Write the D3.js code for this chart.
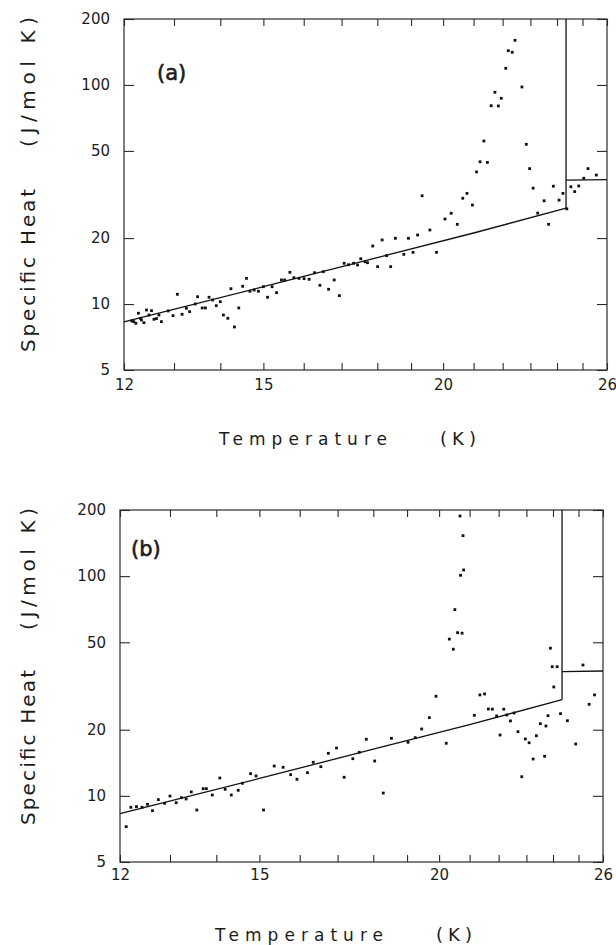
<!DOCTYPE html>
<html>
<head>
<meta charset="utf-8">
<script src="https://cdn.jsdelivr.net/npm/d3@7"></script>
<style>
  body { margin: 0; background: #fff; }
  svg { display: block; }
  text { font-family: "DejaVu Sans", sans-serif; fill: #1c1c1c; }
</style>
</head>
<body>
<div id="chart"></div>
<script>
// panel (a) measured points: temperature (K) and specific heat (J/mol K)
const tempA = [12.15, 12.19, 12.23, 12.28, 12.32, 12.34, 12.39, 12.44, 12.49, 12.54,
  12.59, 12.64, 12.69, 12.74, 12.88, 12.98, 13.07, 13.17, 13.26, 13.33,
  13.45, 13.50, 13.60, 13.67, 13.75, 13.83, 13.91, 14.00, 14.07, 14.17,
  14.24, 14.32, 14.42, 14.51, 14.60, 14.68, 14.78, 14.88, 15.00, 15.10,
  15.21, 15.32, 15.44, 15.52, 15.65, 15.75, 15.88, 16.01, 16.14, 16.28,
  16.42, 16.51, 16.65, 16.80, 16.94, 17.07, 17.19, 17.33, 17.44, 17.53,
  17.65, 17.72, 17.87, 18.01, 18.14, 18.27, 18.39, 18.53, 18.78, 18.92,
  19.06, 19.20, 19.34, 19.58, 19.79, 20.06, 20.26, 20.46, 20.64, 20.78,
  20.96, 21.10, 21.22, 21.35, 21.47, 21.60, 21.73, 21.85, 21.95, 22.11,
  22.20, 22.34, 22.44, 22.69, 22.85, 22.97, 23.10, 23.27, 23.51, 23.68,
  23.86, 24.08, 24.23, 24.38, 24.54, 24.69, 24.85, 25.05, 25.22, 25.56];
const heatA = [8.37, 8.31, 8.17, 9.08, 8.61, 8.46, 8.22, 9.39, 8.91, 9.33,
  8.52, 8.58, 8.91, 8.31, 9.30, 8.85, 11.08, 8.98, 9.56, 9.23,
  10.01, 10.80, 9.60, 9.60, 10.74, 10.44, 9.83, 10.25, 8.91, 8.61,
  11.75, 7.86, 9.60, 12.05, 13.1, 11.44, 11.59, 11.44, 12.0, 10.74,
  12.0, 11.27, 12.88, 12.88, 13.96, 13.19, 13.1, 13.06, 12.97, 13.9,
  12.18, 14.05, 11.68, 12.88, 10.92, 15.35, 15.12, 15.35, 15.07, 16.1,
  15.6, 15.44, 18.4, 14.81, 19.61, 16.63, 14.81, 19.96, 16.86, 19.96,
  17.22, 20.66, 31.2, 21.78, 17.22, 24.45, 25.96, 23.12, 30.4, 32.0,
  28.3, 40.1, 44.6, 55.5, 44.3, 80.4, 92.6, 80.2, 86.9, 119.1,
  143.4, 141.0, 159.9, 97.9, 53.6, 41.5, 33.8, 26.0, 29.6, 23.12,
  34.5, 29.8, 32.0, 27.2, 34.3, 32.6, 34.6, 37.5, 41.5, 38.8];

// panel (b) measured points
const tempB = [12.12, 12.21, 12.32, 12.43, 12.54, 12.64, 12.76, 12.89, 13.00, 13.13,
  13.24, 13.34, 13.45, 13.57, 13.71, 13.78, 13.91, 14.08, 14.20, 14.34,
  14.50, 14.60, 14.79, 14.92, 15.10, 15.36, 15.58, 15.77, 15.93, 16.20,
  16.35, 16.55, 16.75, 16.97, 17.18, 17.42, 17.60, 17.80, 18.04, 18.29,
  18.53, 19.03, 19.25, 19.45, 19.69, 19.90, 20.23, 20.33, 20.46, 20.51,
  20.60, 20.75, 20.70, 20.80, 20.78, 20.68, 21.16, 21.35, 21.51, 21.64,
  21.78, 21.93, 22.05, 22.18, 22.29, 22.42, 22.55, 22.69, 22.83, 22.96,
  23.10, 23.25, 23.37, 23.52, 23.68, 23.73, 23.81, 23.90, 23.97, 24.16,
  24.03, 24.29, 24.56, 24.89, 25.18, 25.43, 25.65];
const heatB = [7.24, 8.87, 8.93, 8.87, 9.15, 8.56, 9.61, 9.25, 9.98, 9.31,
  9.81, 9.68, 10.42, 8.62, 10.78, 10.78, 10.09, 12.06, 10.71, 10.09,
  10.6, 11.41, 12.62, 12.32, 8.62, 13.67, 13.49, 12.49, 11.9, 12.75,
  14.22, 13.58, 15.62, 16.51, 12.15, 14.76, 15.79, 18.09, 14.41, 10.3,
  18.28, 17.53, 18.4, 20.15, 22.7, 28.4, 17.35, 51.7, 46.5, 70.4,
  55.3, 55.0, 100.9, 106.7, 152.8, 187.8, 23.26, 28.8, 29.1, 24.85,
  24.8, 23.1, 18.92, 24.8, 23.34, 21.93, 23.83, 19.59, 12.22, 18.15,
  17.45, 14.71, 18.78, 21.3, 15.14, 20.8, 23.17, 47.0, 38.7, 38.7,
  31.3, 23.66, 21.98, 17.22, 39.4, 26.1, 28.8];

// normal-state curve below Tc, and the level above Tc
const fitT = [12, 15, 18, 21, 24.35];
const fitC = [8.3, 12.0, 16.3, 21.1, 27.4];
const Tc = 24.35;
const jumpT = [24.35, 26];
const jumpC = [36.8, 37.0];

const xTicks = d3.range(12, 27);
const xLabels = [12, 15, 20, 26];
const yTicks = [5, 10, 20, 50, 100, 200];

const svg = d3.select("#chart")
    .append("svg")
    .attr("width", 616)
    .attr("height", 945);

function drawPanel(cfg) {
    const x = d3.scaleLog().domain([12, 26]).range([cfg.left, cfg.right]);
    const y = d3.scaleLog().domain([5, 200]).range([cfg.bottom, cfg.top]);
    const g = svg.append("g");

    // frame
    g.append("rect")
        .attr("x", cfg.left)
        .attr("y", cfg.top)
        .attr("width", cfg.right - cfg.left)
        .attr("height", cfg.bottom - cfg.top)
        .attr("fill", "none")
        .attr("stroke", "#2a2a2a")
        .attr("stroke-width", 1.2);

    // axes, ticks pointing inward
    const axes = [
        g.append("g").attr("transform", `translate(0,${cfg.bottom})`)
            .call(d3.axisBottom(x).tickValues(xTicks).tickSize(-7).tickPadding(cfg.xPad)
                .tickFormat(d => xLabels.includes(d) ? d : "")),
        g.append("g").attr("transform", `translate(0,${cfg.top})`)
            .call(d3.axisTop(x).tickValues(xTicks).tickSize(-7).tickFormat("")),
        g.append("g").attr("transform", `translate(${cfg.left},0)`)
            .call(d3.axisLeft(y).tickValues(yTicks).tickSize(-10).tickPadding(14)
                .tickFormat(d3.format("d"))),
        g.append("g").attr("transform", `translate(${cfg.right},0)`)
            .call(d3.axisRight(y).tickValues(yTicks).tickSize(-10).tickFormat(""))
    ];
    axes.forEach(a => {
        a.attr("font-size", 15);
        a.select(".domain").remove();
        a.selectAll(".tick line").attr("stroke", "#2a2a2a").attr("stroke-width", 1.1);
    });

    // fitted curve, vertical jump and level above Tc
    const line = d3.line().x(d => x(d[0])).y(d => y(d[1]));
    g.append("path")
        .attr("d", line(d3.zip(fitT, fitC)))
        .attr("fill", "none").attr("stroke", "#111").attr("stroke-width", 1.3);
    g.append("path")
        .attr("d", line([[Tc, fitC[fitC.length - 1]], [Tc, 200]]))
        .attr("fill", "none").attr("stroke", "#111").attr("stroke-width", 1.3);
    g.append("path")
        .attr("d", line(d3.zip(jumpT, jumpC)))
        .attr("fill", "none").attr("stroke", "#111").attr("stroke-width", 1.3);

    // data points
    g.selectAll(".pt")
        .data(d3.zip(cfg.temp, cfg.heat))
        .enter()
        .append("rect")
        .attr("class", "pt")
        .attr("x", d => x(d[0]) - 1.4)
        .attr("y", d => y(d[1]) - 1.4)
        .attr("width", 2.8)
        .attr("height", 2.8)
        .attr("fill", "#111");

    // panel tag
    g.append("text")
        .attr("x", cfg.tagX)
        .attr("y", cfg.tagY)
        .attr("font-size", 21)
        .attr("stroke", "#1c1c1c")
        .attr("stroke-width", 0.6)
        .text(cfg.tag);

    // x title
    g.append("text")
        .attr("x", cfg.left + 95)
        .attr("y", cfg.xTitleY)
        .attr("font-size", 17)
        .attr("textLength", 168)
        .attr("lengthAdjust", "spacing")
        .text("Temperature");
    g.append("text")
        .attr("x", cfg.left + 316)
        .attr("y", cfg.xTitleY)
        .attr("font-size", 18)
        .attr("textLength", 36)
        .attr("lengthAdjust", "spacing")
        .text("(K)");

    // y title, rotated
    g.append("text")
        .attr("transform", `translate(35,${cfg.yTitle1}) rotate(-90)`)
        .attr("font-size", 20)
        .attr("textLength", cfg.yLen1)
        .attr("lengthAdjust", "spacing")
        .text("Specific Heat");
    g.append("text")
        .attr("transform", `translate(35,${cfg.yTitle2}) rotate(-90)`)
        .attr("font-size", 20)
        .attr("textLength", cfg.yLen2)
        .attr("lengthAdjust", "spacing")
        .text("(J/mol K)");
}

drawPanel({
    left: 124, right: 607, top: 19, bottom: 370,
    temp: tempA, heat: heatA, xPad: 9,
    tag: "(a)", tagX: 157, tagY: 80,
    xTitleY: 445,
    yTitle1: 352, yLen1: 163, yTitle2: 147, yLen2: 130
});

drawPanel({
    left: 120, right: 603, top: 510, bottom: 862,
    temp: tempB, heat: heatB, xPad: 7,
    tag: "(b)", tagX: 131, tagY: 556,
    xTitleY: 941,
    yTitle1: 825, yLen1: 155, yTitle2: 630, yLen2: 122
});
</script>
</body>
</html>
